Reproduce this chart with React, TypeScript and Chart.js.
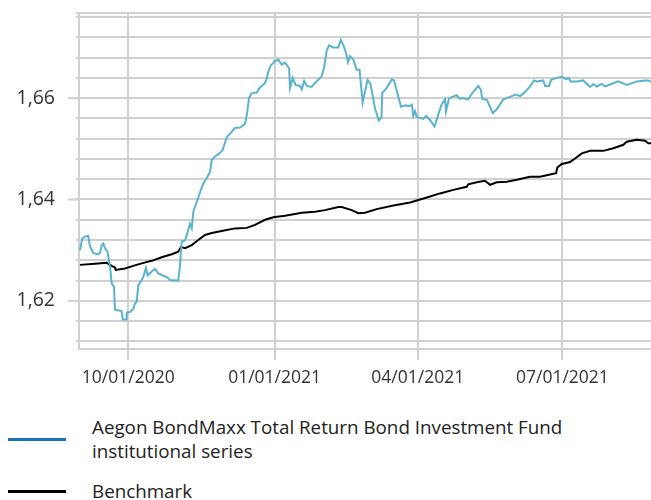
import React, { useEffect, useRef } from "react";
import { Chart, registerables } from "chart.js";
Chart.register(...registerables);

// x = days since 2020-10-01
const fundDays = [
  -30.4, -28.9, -27.2, -25.2, -24.1, -22.0, -18.9, -17.8, -16.7, -15.7,
  -14.7, -13.1, -11.5, -10.4, -9.0, -8.4, -7.3, -4.2, -3.5, -1.4,
  -1.0, 1.1, 3.1, 4.2, 5.3, 6.3, 8.4, 9.4, 11.1, 12.2,
  14.7, 16.8, 18.9, 21.0, 24.2, 26.2, 31.4, 32.5, 33.6, 35.7,
  37.7, 38.8, 39.9, 40.9, 44.0, 46.2, 47.8, 49.3, 51.4, 52.5,
  54.5, 57.0, 59.4, 61.9, 64.6, 67.1, 70.3, 73.4, 74.7, 75.9,
  77.6, 80.8, 82.6, 86.0, 87.0, 88.1, 89.7, 92.3, 94.3, 96.5,
  98.6, 101.1, 101.7, 103.4, 105.2, 108.0, 109.1, 110.6, 112.2, 115.3,
  117.4, 121.6, 123.1, 124.7, 126.2, 128.9, 132.1, 133.6, 135.2, 136.9,
  138.2, 139.4, 141.5, 143.6, 145.4, 147.4, 150.4, 152.3, 155.2, 157.5,
  159.2, 159.7, 162.5, 165.7, 167.1, 171.5, 174.3, 176.5, 178.4, 179.2,
  180.3, 181.4, 185.5, 187.2, 189.7, 192.6, 194.5, 197.1, 199.2, 199.8,
  201.7, 206.5, 208.3, 210.7, 213.6, 216.8, 220.1, 221.8, 222.5, 225.6,
  227.7, 229.2, 231.7, 235.7, 238.0, 241.1, 243.5, 246.4, 250.1, 252.6,
  255.2, 257.1, 261.0, 262.1, 264.6, 265.9, 269.4, 272.8, 275.3, 276.9,
  278.2, 282.0, 286.0, 290.4, 292.5, 294.6, 297.7, 299.8, 303.0, 308.0,
  313.6, 319.8, 325.0, 326.8, 328.7,
];
const fundValues = [
  1.6300, 1.6323, 1.6327, 1.6328, 1.6308, 1.6294, 1.6292, 1.6294, 1.6310, 1.6313,
  1.6304, 1.6297, 1.6267, 1.6234, 1.6228, 1.6183, 1.6182, 1.6180, 1.6163, 1.6163,
  1.6177, 1.6178, 1.6184, 1.6195, 1.6198, 1.6231, 1.6241, 1.6247, 1.6265, 1.6250,
  1.6258, 1.6263, 1.6254, 1.6251, 1.6247, 1.6241, 1.6240, 1.6269, 1.6317, 1.6319,
  1.6340, 1.6352, 1.6343, 1.6376, 1.6404, 1.6424, 1.6435, 1.6442, 1.6455, 1.6478,
  1.6485, 1.6490, 1.6498, 1.6523, 1.6532, 1.6541, 1.6542, 1.6549, 1.6570, 1.6600,
  1.6610, 1.6611, 1.6620, 1.6630, 1.6638, 1.6653, 1.6665, 1.6673, 1.6676, 1.6666,
  1.6670, 1.6659, 1.6620, 1.6640, 1.6626, 1.6624, 1.6617, 1.6634, 1.6624, 1.6622,
  1.6630, 1.6643, 1.6660, 1.6693, 1.6704, 1.6700, 1.6700, 1.6715, 1.6705, 1.6689,
  1.6671, 1.6683, 1.6676, 1.6656, 1.6656, 1.6591, 1.6636, 1.6628, 1.6579, 1.6556,
  1.6562, 1.6610, 1.6620, 1.6637, 1.6635, 1.6583, 1.6586, 1.6584, 1.6587, 1.6565,
  1.6574, 1.6563, 1.6559, 1.6565, 1.6557, 1.6544, 1.6564, 1.6588, 1.6598, 1.6574,
  1.6600, 1.6606, 1.6599, 1.6600, 1.6597, 1.6612, 1.6624, 1.6616, 1.6599, 1.6596,
  1.6581, 1.6570, 1.6578, 1.6597, 1.6600, 1.6604, 1.6607, 1.6604, 1.6614, 1.6623,
  1.6635, 1.6633, 1.6635, 1.6624, 1.6624, 1.6636, 1.6640, 1.6642, 1.6637, 1.6640,
  1.6633, 1.6633, 1.6635, 1.6622, 1.6628, 1.6623, 1.6628, 1.6623, 1.6627, 1.6633,
  1.6626, 1.6633, 1.6635, 1.6635, 1.6632,
];

const benchDays = [
  -30.4, -20.9, -13.6, -10.4, -8.4, -7.9, -2.1, 3.1, 8.4, 14.7,
  21.0, 27.3, 31.4, 33.1, 35.7, 39.9, 44.0, 48.2, 52.5, 58.7,
  67.1, 74.5, 79.7, 86.0, 91.2, 98.6, 109.1, 117.4, 123.7, 132.1,
  134.2, 140.5, 144.7, 148.9, 156.2, 166.7, 177.2, 187.7, 196.0, 204.4,
  212.8, 213.8, 219.1, 224.3, 227.5, 231.7, 238.0, 244.3, 252.6, 258.9,
  263.1, 269.0, 269.8, 272.6, 277.8, 280.9, 285.2, 290.4, 294.6, 298.7,
  305.0, 311.3, 313.4, 319.7, 325.0, 327.0, 328.7,
];
const benchValues = [
  1.6271, 1.6273, 1.6275, 1.6269, 1.6266, 1.6261, 1.6264, 1.6269, 1.6274, 1.6279,
  1.6286, 1.6292, 1.6297, 1.6306, 1.6304, 1.6310, 1.6320, 1.6330, 1.6334, 1.6338,
  1.6343, 1.6344, 1.6350, 1.6360, 1.6365, 1.6368, 1.6374, 1.6376, 1.6379, 1.6385,
  1.6385, 1.6379, 1.6373, 1.6374, 1.6381, 1.6388, 1.6394, 1.6404, 1.6412, 1.6419,
  1.6425, 1.6430, 1.6434, 1.6437, 1.6429, 1.6434, 1.6435, 1.6439, 1.6445, 1.6445,
  1.6448, 1.6452, 1.6463, 1.6470, 1.6474, 1.6481, 1.6491, 1.6496, 1.6496, 1.6496,
  1.6501, 1.6508, 1.6514, 1.6518, 1.6516, 1.6511, 1.6511,
];

const xTickDays = [0, 92, 182, 273];
const xTickLabels = ["10/01/2020", "01/01/2021", "04/01/2021", "07/01/2021"];
const yGridValues = [1.612, 1.616, 1.62, 1.624, 1.628, 1.632, 1.636, 1.64, 1.644, 1.648, 1.652, 1.656, 1.66, 1.664, 1.668, 1.672, 1.676];
const yLabelValues = [1.62, 1.64, 1.66];
const yLabelTexts = ["1,62", "1,64", "1,66"];
const seriesNames = [
  "Aegon BondMaxx Total Return Bond Investment Fund institutional series",
  "Benchmark",
];
const fundColor = "#5ab3cd";
const fundLegendColor = "#1a73b8";
const benchColor = "#000000";
const gridColor = "#d0d0d0";
const FONT = "Open Sans";

const majorTicks = {
  id: "majorTicks",
  afterDraw(chart: any) {
    const y = chart.scales.y;
    const ctx = chart.ctx;
    const left = chart.chartArea.left;
    ctx.save();
    ctx.strokeStyle = gridColor;
    ctx.lineWidth = 2;
    yLabelValues.forEach((v) => {
      const py = y.getPixelForValue(v);
      ctx.beginPath();
      ctx.moveTo(left - 11, py);
      ctx.lineTo(left, py);
      ctx.stroke();
    });
    ctx.restore();
  },
};

export default function App() {
  const ref = useRef<HTMLCanvasElement>(null);
  useEffect(() => {
    document.body.style.margin = "0";
    const chart = new Chart(ref.current!, {
      type: "line",
      data: {
        datasets: [
          {
            label: seriesNames[0],
            data: fundDays.map((d, i) => ({ x: d, y: fundValues[i] })),
            borderColor: fundColor,
            borderWidth: 2,
            pointRadius: 0,
            tension: 0,
          },
          {
            label: seriesNames[1],
            data: benchDays.map((d, i) => ({ x: d, y: benchValues[i] })),
            borderColor: benchColor,
            borderWidth: 2,
            pointRadius: 0,
            tension: 0,
          },
        ],
      },
      options: {
        animation: false,
        responsive: false,
        layout: { padding: { top: 13, left: 0, right: 0, bottom: 0 } },
        plugins: { legend: { display: false }, tooltip: { enabled: false } },
        scales: {
          x: {
            type: "linear",
            min: -31,
            max: 328.7,
            afterBuildTicks: (s: any) => {
              s.ticks = xTickDays.map((v) => ({ value: v }));
            },
            afterFit: (s: any) => {
              s.height = 51;
              s.paddingLeft = 0;
              s.paddingRight = 0;
            },
            ticks: {
              autoSkip: false,
              maxRotation: 0,
              padding: 8,
              color: "#333",
              font: { family: FONT, size: 17.5 },
              callback: (v: any) => {
                const i = xTickDays.indexOf(Number(v));
                return i >= 0 ? xTickLabels[i] : "";
              },
            },
            grid: { color: gridColor, lineWidth: 2, tickLength: 11 },
            border: { color: gridColor, width: 2 },
          },
          y: {
            min: 1.6105,
            max: 1.6768,
            afterBuildTicks: (s: any) => {
              s.ticks = [...yGridValues, 1.6768].map((v) => ({ value: v }));
            },
            afterFit: (s: any) => {
              s.width = 79;
              s.paddingTop = 0;
              s.paddingBottom = 0;
            },
            ticks: {
              autoSkip: false,
              padding: 21,
              color: "#333",
              font: { family: FONT, size: 19.5 },
              callback: (v: any) => {
                const i = yLabelValues.findIndex((l) => Math.abs(l - Number(v)) < 1e-6);
                return i >= 0 ? yLabelTexts[i] : "";
              },
            },
            grid: { color: gridColor, lineWidth: 2, tickLength: 3 },
            border: { color: gridColor, width: 2 },
          },
        },
      },
      plugins: [majorTicks],
    });
    return () => chart.destroy();
  }, []);

  const legendRow = (color: string, text: string, top: number) => (
    <div style={{ position: "absolute", left: 0, top, width: 651, display: "flex", alignItems: "center" }}>
      <div style={{ width: 58, height: 3, background: color, marginLeft: 8, flex: "none" }} />
      <div style={{ marginLeft: 26, width: 500, fontFamily: FONT, fontSize: 18.8, lineHeight: "24px", color: "#222" }}>{text}</div>
    </div>
  );

  return (
    <div style={{ position: "absolute", left: 0, top: 0, width: 651, height: 500, overflow: "hidden", background: "#fff" }}>
      <canvas ref={ref} width={651} height={400} style={{ display: "block" }} />
      {legendRow(fundLegendColor, seriesNames[0], 415)}
      {legendRow(benchColor, seriesNames[1], 479)}
    </div>
  );
}
